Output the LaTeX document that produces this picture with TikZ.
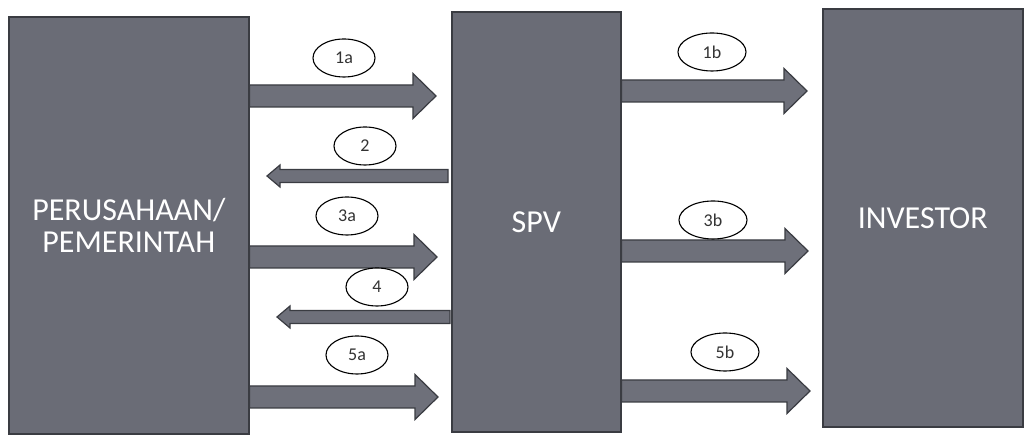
\documentclass[tikz,border=0pt]{standalone}
\usepackage{fontspec}
\setmainfont{Carlito}
\usetikzlibrary{shapes.geometric,calc}
\definecolor{boxgray}{RGB}{106,108,118}
\definecolor{boxedge}{RGB}{58,60,66}
\definecolor{arrgray}{RGB}{110,112,122}
\tikzset{
  box/.style={draw=boxedge, line width=1.6pt, fill=boxgray, anchor=south west,
    text=white, font=\fontsize{32}{32}\selectfont, align=center, inner sep=0pt},
  lbl/.style={draw=black, line width=1.1pt, ellipse, fill=white, minimum width=62pt,
    minimum height=38pt, inner sep=0pt, font=\fontsize{18}{20}\selectfont, text=black!80},
  bigarrow/.style={draw=boxedge, line width=1.2pt, fill=arrgray, line join=miter,
    to path={let \p1=(\tikztostart), \p2=(\tikztotarget),
      \p3=($(\tikztotarget)!23pt!(\tikztostart)$) in
      (\x1,\y2+11pt) -- (\x3,\y2+11pt) -- (\x3,\y2+22.5pt) -- (\x2,\y2)
      -- (\x3,\y2-22.5pt) -- (\x3,\y2-11pt) -- (\x1,\y2-11pt) -- cycle}},
  smallarrow/.style={draw=boxedge, line width=1.2pt, fill=arrgray, line join=miter,
    to path={let \p1=(\tikztostart), \p2=(\tikztotarget),
      \p3=($(\tikztotarget)!13pt!(\tikztostart)$) in
      (\x1,\y2+6.5pt) -- (\x3,\y2+6.5pt) -- (\x3,\y2+11pt) -- (\x2,\y2)
      -- (\x3,\y2-11pt) -- (\x3,\y2-6.5pt) -- (\x1,\y2-6.5pt) -- cycle}}
}
\begin{document}
\begin{tikzpicture}[x=1pt,y=1pt]
\useasboundingbox[fill=white] (0,0) rectangle (1026,435);
% end coordinates
\coordinate (e1a) at (436,339);
\coordinate (e2) at (267,259);
\coordinate (e3a) at (437,178);
\coordinate (e4) at (277,118);
\coordinate (e5a) at (438,38);
\coordinate (e1b) at (807,344);
\coordinate (e3b) at (808,184);
\coordinate (e5b) at (810,44);
% boxes
\node[box, minimum width=240pt, minimum height=417pt] (P) at (8,0)
  {PERUSAHAAN/\\PEMERINTAH};
\node[box, minimum width=169pt, minimum height=420pt] (S) at (451,2) {SPV};
\node[box, minimum width=200pt, minimum height=418pt] (I) at (822,7) {INVESTOR};
% arrows
\draw[bigarrow] (P.east |- e1a) to (e1a);
\draw[smallarrow] ([xshift=-3pt]S.west |- e2) to (e2);
\draw[bigarrow] (P.east |- e3a) to (e3a);
\draw[smallarrow] ([xshift=-1pt]S.west |- e4) to (e4);
\draw[bigarrow] (P.east |- e5a) to (e5a);
\draw[bigarrow] (S.east |- e1b) to (e1b);
\draw[bigarrow] (S.east |- e3b) to (e3b);
\draw[bigarrow] (S.east |- e5b) to (e5b);
% redraw box edges over arrow starts
\draw[draw=boxedge, line width=1.6pt] (P.north east) -- (P.south east);
\draw[draw=boxedge, line width=1.6pt] (S.north east) -- (S.south east);
% labels
\node[lbl] (l1a) at (344,377) {1a};
\node[lbl] (l2) at (365,289) {2};
\node[lbl] (l3a) at (347,219) {3a};
\node[lbl] (l4) at (377,148) {4};
\node[lbl] (l5a) at (357,80) {5a};
\node[lbl, minimum width=68pt] (l1b) at (712,383) {1b};
\node[lbl, minimum width=68pt] (l3b) at (713,215) {3b};
\node[lbl, minimum width=68pt] (l5b) at (725,83) {5b};
\end{tikzpicture}
\end{document}
